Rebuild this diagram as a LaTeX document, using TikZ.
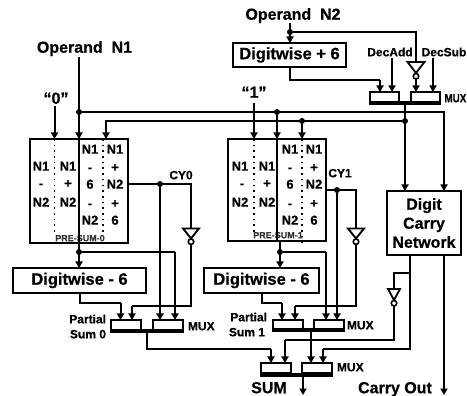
\documentclass[tikz,border=0pt]{standalone}
\usepackage{fontspec}
\setmainfont[BoldFeatures={FakeBold=0.6}]{Liberation Sans}
\usetikzlibrary{arrows.meta}
\newcommand\fz[1]{\fontsize{#1}{#1}\selectfont\bfseries}
\tikzset{
  x=1pt,y=-1pt,
  wire/.style={line width=2pt,line join=miter},
  arr/.style={wire,-{Triangle[length=6.5pt,width=7pt]}},
  dot/.style={circle,fill=black,draw=none,inner sep=0pt,minimum size=6pt},
  pdots/.style={line width=1.4pt,dash pattern=on 1.6pt off 4.1pt},
  lbl/.style={inner sep=0pt,outer sep=0pt,text=black},
  big/.style={lbl,font=\fz{16},text height=11.5pt,text depth=0pt},
  mid/.style={lbl,font=\fz{12},text height=8.6pt,text depth=0pt},
  cell/.style={lbl,font=\fz{13},text height=9.4pt,text depth=0pt},
  tiny/.style={lbl,font=\fz{9},text height=6.5pt,text depth=0pt,text=black!80},
  blk/.style={draw,line width=2pt,inner sep=0pt,outer sep=0pt},
  muxb/.style={draw,line width=1.7pt,inner sep=0pt,outer sep=0pt},
  bar/.style={fill=black,inner sep=0pt,outer sep=0pt,minimum height=4pt},
  bub/.style={circle,draw,line width=1.6pt,fill=white,inner sep=0pt,outer sep=0pt,minimum size=5.5pt},
}
% inverter: #1 name, #2 x, #3 top y, #4 half width, #5 apex y
\newcommand\invgate[5]{%
  \draw[line width=1.8pt,line join=miter] (#2-#4,#3) -- (#2+#4,#3) -- (#2,#5) -- cycle;
  \node[bub] (#1) at (#2,#5+3.2) {};
  \coordinate (#1top) at (#2,#3);
}
% mux: #1 name, #2 x1, #3 x2, #4 x3, #5 x4, #6 ytop, #7 ybox bottom
\newcommand\muxunit[7]{%
  \node[muxb,minimum width={#3-#2},minimum height={#7-#6}] (#1l) at ({(#2+#3)/2},{(#6+#7)/2}) {};
  \node[muxb,minimum width={#5-#4},minimum height={#7-#6}] (#1r) at ({(#4+#5)/2},{(#6+#7)/2}) {};
  \node[bar,minimum width={#5-#2+1.7}] (#1) at ({(#2+#5)/2},#7+1.5) {};
}
\begin{document}
\begin{tikzpicture}
\useasboundingbox (0,0) rectangle (467,396);

% ---- blocks
\node[blk,minimum width=98,minimum height=104] (ps0) at (79,191) {};
\node[blk,minimum width=98,minimum height=102] (ps1) at (277,190) {};
\node[blk,minimum width=133,minimum height=25,font=\fz{16.5}] (dw0) at (79.5,280.5) {Digitwise - 6};
\node[blk,minimum width=115,minimum height=25,font=\fz{16.5}] (dw1) at (261.5,280.5) {Digitwise - 6};
\node[blk,minimum width=113,minimum height=24,font=\fz{16.5}] (dwp) at (289.5,55) {Digitwise + 6};
\node[blk,minimum width=74,minimum height=64] (dcn) at (424,223) {};
\node[big] (dcn1) at (424,204) {Digit};
\node[big] (dcn2) at (424,223) {Carry};
\node[big] (dcn3) at (424,242) {Network};

\muxunit{mt}{370}{399}{411}{440}{92}{102}
\muxunit{m0}{111}{141}{153}{183}{320}{330}
\muxunit{m1}{273}{303}{314}{344}{320}{329}
\muxunit{ms}{261}{291}{302}{332}{363}{373}

% ---- labels
\node[big] (opn1) at (84.5,47) {Operand\ \ N1};
\node[big] (opn2) at (293,14) {Operand\ \ N2};
\node[big] (q0) at (56,98) {“0”};
\node[big] (q1) at (254,92) {“1”};
\node[mid] (decadd) at (390,52) {DecAdd};
\node[mid] (decsub) at (444,52) {DecSub};
\node[mid,anchor=west,xscale=0.82] (lmt) at (444.5,98) {MUX};
\node[mid,anchor=west] (lm0) at (188,326) {MUX};
\node[mid,anchor=west] (lm1) at (347,325) {MUX};
\node[mid,anchor=west] (lms) at (337,367) {MUX};
\node[mid] (cy0) at (181,175) {CY0};
\node[mid] (cy1) at (340,173) {CY1};
\node[mid,anchor=east] (ps0a) at (106,319) {Partial};
\node[mid,anchor=east] (ps0b) at (106,334) {Sum 0};
\node[mid,anchor=east] (ps1a) at (267,317) {Partial};
\node[mid,anchor=east] (ps1b) at (265,332) {Sum 1};
\node[big] (sumt) at (269,387.5) {SUM};
\node[big] (cout) at (395,387.5) {Carry Out};
\node[tiny] (pl0) at (80,238) {PRE-SUM-0};
\node[tiny] (pl1) at (278,235) {PRE-SUM-1};

% ---- table cells
\foreach \x/\y/\t [count=\i] in {
  41/166/N1,68/166/N1,41/183/-,68/183/+,41/202/N2,68/202/N2,
  90/149/N1,115/149/N1,90/167/-,115/167/+,90/184/6,115/184/N2,90/203/-,115/203/+,90/220/N2,115/220/6,
  240/166/N1,267/166/N1,242/183/-,267/183/+,240/202/N2,267/202/N2,
  290/149/N1,314/149/N1,290/167/-,314/167/+,290/184/6,314/184/N2,290/203/-,314/203/+,290/220/N2,314/220/6}
  {\node[cell] (c\i) at (\x,\y) {\t};}

% ---- dotted and solid dividers
\coordinate (d0a) at (54.5,139); \coordinate (d0b) at (54.5,233);
\coordinate (d1a) at (103,139);  \coordinate (d1b) at (103,233);
\coordinate (d2a) at (254,139);  \coordinate (d2b) at (254,233);
\coordinate (d3a) at (302,139);  \coordinate (d3b) at (302,243);
\draw[pdots] (d0a) -- (d0b);
\draw[pdots] (d1a) -- (d1b);
\draw[pdots] (d2a) -- (d2b);
\draw[pdots] (d3a) -- (d3b);
\draw[line width=2pt] (ps0.north) -- (ps0.south);
\draw[line width=2pt] (ps1.north) -- (ps1.south);

% ---- junction coordinates
\coordinate (n1s) at (79,57);
\node[dot] (jn1) at (79,112) {};
\node[dot] (jn1b) at (277,112) {};
\node[dot] (jn2b) at (302,121) {};
\node[dot] (jm) at (405,121) {};
\node[dot] (jop2) at (290,32) {};
\node[dot] (jcy0) at (160,184) {};
\node[dot] (jcy1) at (337,190) {};
\node[dot] (jps0) at (79,252) {};
\node[dot] (jps1) at (280,252) {};
\coordinate (mto) at (405,104);
\coordinate (m0o) at (146.5,332);
\coordinate (m1o) at (311,330);
\coordinate (mso) at (303,375);
\coordinate (dcna) at (410,255);
\coordinate (dcnb) at (444,255);
\coordinate (jdc) at (410,273);

% ---- inverters
\invgate{itop}{416}{62}{8.5}{73}
\invgate{icy0}{191}{228.5}{8}{238.5}
\invgate{icy1}{356}{228.5}{8}{238.5}
\invgate{icar}{394}{289}{6}{300}

% ---- operand N1 / N2 buses
\draw[arr] (n1s) -- (n1s |- ps0.north);
\draw[arr] (jn1) -| (dcnb |- dcn.north);
\draw[arr] (jn1b) -- (jn1b |- ps1.north);
\draw[wire] (jm) -- (jm -| jn2b);
\draw[arr] (jn2b) -- (jn2b |- ps1.north);
\coordinate (n2l) at (106,121);
\draw[arr] (jn2b) -- (n2l) -- (n2l |- ps0.north);
\draw[arr] (mto) -- (mto |- dcn.north);
\coordinate (q0s) at (54.5,106);
\draw[arr] (q0s) -- (q0s |- ps0.north);
\coordinate (q1s) at (254,103);
\draw[arr] (q1s) -- (q1s |- ps1.north);

% ---- top section
\coordinate (n2s) at (290,23);
\draw[arr] (n2s) -- (n2s |- dwp.north);
\draw[wire] (jop2) -| (itoptop);
\coordinate (pmt1) at (380,80);
\draw[arr] (pmt1) -- (pmt1 |- mtl.north);
\draw[wire] (dwp.south) -- (dwp.south |- pmt1) -- (pmt1);
\coordinate (da) at (392,58);
\coordinate (ds) at (433,58);
\draw[arr] (da) -- (da |- mtl.north);
\draw[arr] (ds) -- (ds |- mtr.north);
\draw[arr] (itop.south) -- (itop.south |- mtr.north);

% ---- pre-sum 0 outputs
\coordinate (ps0o) at (128,184);
\draw[wire] (ps0o) -- (icy0top |- ps0o) -- (icy0top);
\coordinate (m0a) at (120.5,303);
\coordinate (m0b) at (132,306);
\draw[arr] (jcy0) -- (jcy0 |- m0r.north);
\draw[wire] (icy0.south) -- (icy0.south |- m0b) -- (m0b);
\draw[arr] (m0b) -- (m0b |- m0l.north);
\coordinate (p0o) at (79,243);
\draw[arr] (p0o) -- (p0o |- dw0.north);
\coordinate (m0c) at (175,252);
\draw[wire] (jps0) -- (m0c);
\draw[arr] (m0c) -- (m0c |- m0r.north);
\draw[wire] (dw0.south) -- (dw0.south |- m0a) -- (m0a);
\draw[arr] (m0a) -- (m0a |- m0l.north);

% ---- pre-sum 1 outputs
\coordinate (ps1o) at (326,190);
\draw[wire] (ps1o) -- (icy1top |- ps1o) -- (icy1top);
\coordinate (m1a) at (282,303);
\coordinate (m1b) at (295,306);
\draw[arr] (jcy1) -- (jcy1 |- m1r.north);
\draw[wire] (icy1.south) -- (icy1.south |- m1b) -- (m1b);
\draw[arr] (m1b) -- (m1b |- m1l.north);
\coordinate (p1o) at (280,241);
\draw[arr] (p1o) -- (p1o |- dw1.north);
\coordinate (m1c) at (326,252);
\draw[wire] (jps1) -- (m1c);
\draw[arr] (m1c) -- (m1c |- m1r.north);
\coordinate (dw1o) at (262,293);
\draw[wire] (dw1o) -- (dw1o |- m1a) -- (m1a);
\draw[arr] (m1a) -- (m1a |- m1l.north);

% ---- final mux
\coordinate (fa) at (271,349);
\draw[wire] (m0o) -- (m0o |- fa) -- (fa);
\draw[arr] (fa) -- (fa |- msl.north);
\draw[arr] (m1o) -- (m1o |- msr.north);
\coordinate (fb) at (285,340);
\coordinate (fc) at (323,349);
\draw[wire] (dcna) -- (dcna |- fc) -- (fc);
\draw[arr] (fc) -- (fc |- msr.north);
\draw[wire] (jdc) -- (jdc -| icartop) -- (icartop);
\draw[wire] (icar.south) -- (icar.south |- fb) -- (fb);
\draw[arr] (fb) -- (fb |- msl.north);
\coordinate (se) at (303,395);
\draw[arr] (mso) -- (se);
\coordinate (ce) at (444,395);
\draw[arr] (dcnb) -- (ce);
\end{tikzpicture}
\end{document}
